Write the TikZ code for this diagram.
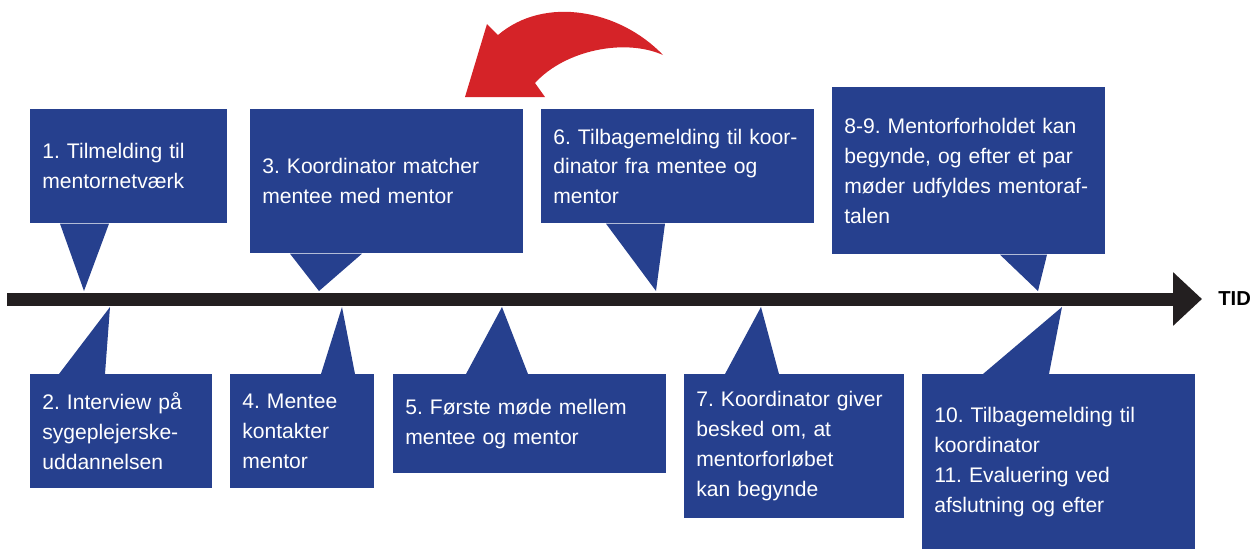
\documentclass[tikz,border=0pt]{standalone}
\usepackage{fontspec}
\setmainfont{Liberation Sans}
\frenchspacing
\definecolor{tlblue}{RGB}{38,64,142}
\definecolor{tlred}{RGB}{213,35,40}
\definecolor{tlblack}{RGB}{35,31,32}
\usetikzlibrary{arrows.meta,calc}
\tikzset{
  stepbox/.style 2 args={fill=tlblue, text=white, anchor=north west, align=left,
    inner xsep=0.24cm, inner ysep=0pt, text width=#1, minimum height=#2,
    font=\fontsize{12}{17}\selectfont},
  pointer/.style={fill=tlblue}
}
\begin{document}
\begin{tikzpicture}[x=0.02cm, y=-0.02cm]
  \useasboundingbox (0,0) rectangle (1252,549);

  %% Upper steps
  \node[stepbox={3.46cm}{2.28cm}] (s1) at (30,109) {1. Tilmelding til\\mentornetværk};
  \node[stepbox={4.98cm}{2.88cm}] (s3) at (250,109) {3. Koordinator matcher\\mentee med mentor};
  \node[stepbox={4.98cm}{2.28cm}] (s6) at (541,109) {6. Tilbagemelding til koor-\\dinator fra mentee og\\mentor};
  \node[stepbox={4.98cm}{3.34cm}] (s89) at (832,87) {8-9. Mentorforholdet kan\\begynde, og efter et par\\møder udfyldes mentoraf-\\talen};

  %% Lower steps
  \node[stepbox={3.16cm}{2.28cm}] (s2) at (30,374) {2. Interview på\\sygeplejerske-\\uddannelsen};
  \node[stepbox={2.40cm}{2.28cm}] (s4) at (230,374) {4. Mentee\\kontakter\\mentor};
  \node[stepbox={4.98cm}{1.98cm}] (s5) at (393,374) {5. Første møde mellem\\mentee og mentor};
  \node[stepbox={3.92cm}{2.88cm}] (s7) at (684,374) {7. Koordinator giver\\besked om, at\\mentorforløbet\\kan begynde};
  \node[stepbox={4.98cm}{3.50cm}] (s10) at (922,374) {10. Tilbagemelding til\\koordinator\\11. Evaluering ved\\afslutning og efter};

  %% Points on the time line
  \coordinate (p1) at (84,291);
  \coordinate (p3) at (319,291);
  \coordinate (p6) at (656,291);
  \coordinate (p89) at (1038,291);
  \coordinate (p2) at (110,307);
  \coordinate (p4) at (342,307);
  \coordinate (p5) at (502,307);
  \coordinate (p7) at (761,307);
  \coordinate (p10) at (1062,307);

  %% Pointers
  \fill[pointer] ($(s1.south west)+(30,0)$) -- (p1) -- ($(s1.south west)+(79,0)$) -- cycle;
  \fill[pointer] ($(s3.south west)+(40,0)$) -- (p3) -- ($(s3.south west)+(112,0)$) -- cycle;
  \fill[pointer] ($(s6.south west)+(65,0)$) -- (p6) -- ($(s6.south west)+(124,0)$) -- cycle;
  \fill[pointer] ($(s89.south west)+(168,0)$) -- (p89) -- ($(s89.south west)+(215,0)$) -- cycle;
  \fill[pointer] ($(s2.north west)+(29,0)$) -- (p2) -- ($(s2.north west)+(75,0)$) -- cycle;
  \fill[pointer] ($(s4.north west)+(91,0)$) -- (p4) -- ($(s4.north west)+(125,0)$) -- cycle;
  \fill[pointer] ($(s5.north west)+(73,0)$) -- (p5) -- ($(s5.north west)+(135,0)$) -- cycle;
  \fill[pointer] ($(s7.north west)+(41,0)$) -- (p7) -- ($(s7.north west)+(95,0)$) -- cycle;
  \fill[pointer] ($(s10.north west)+(61,0)$) -- (p10) -- ($(s10.north west)+(127,0)$) -- cycle;

  %% Time line
  \node[font=\bfseries\fontsize{11.5}{12}\selectfont, anchor=west, inner sep=0pt] (tid) at (1218,299) {TID};
  \coordinate (tstart) at (7,299);
  \draw[tlblack, line width=0.26cm, shorten >=0.32cm, -{Triangle[length=0.58cm, width=1.04cm]}] (tstart) -- (tstart -| tid.west);

  %% Red curved arrow
  \fill[tlred] (663,55) .. controls (620,10) and (545,-5) .. (498,35) -- (487,24) -- (465,97) -- (545,97) -- (535,83)
    .. controls (565,50) and (625,38) .. (663,55) -- cycle;
\end{tikzpicture}
\end{document}
